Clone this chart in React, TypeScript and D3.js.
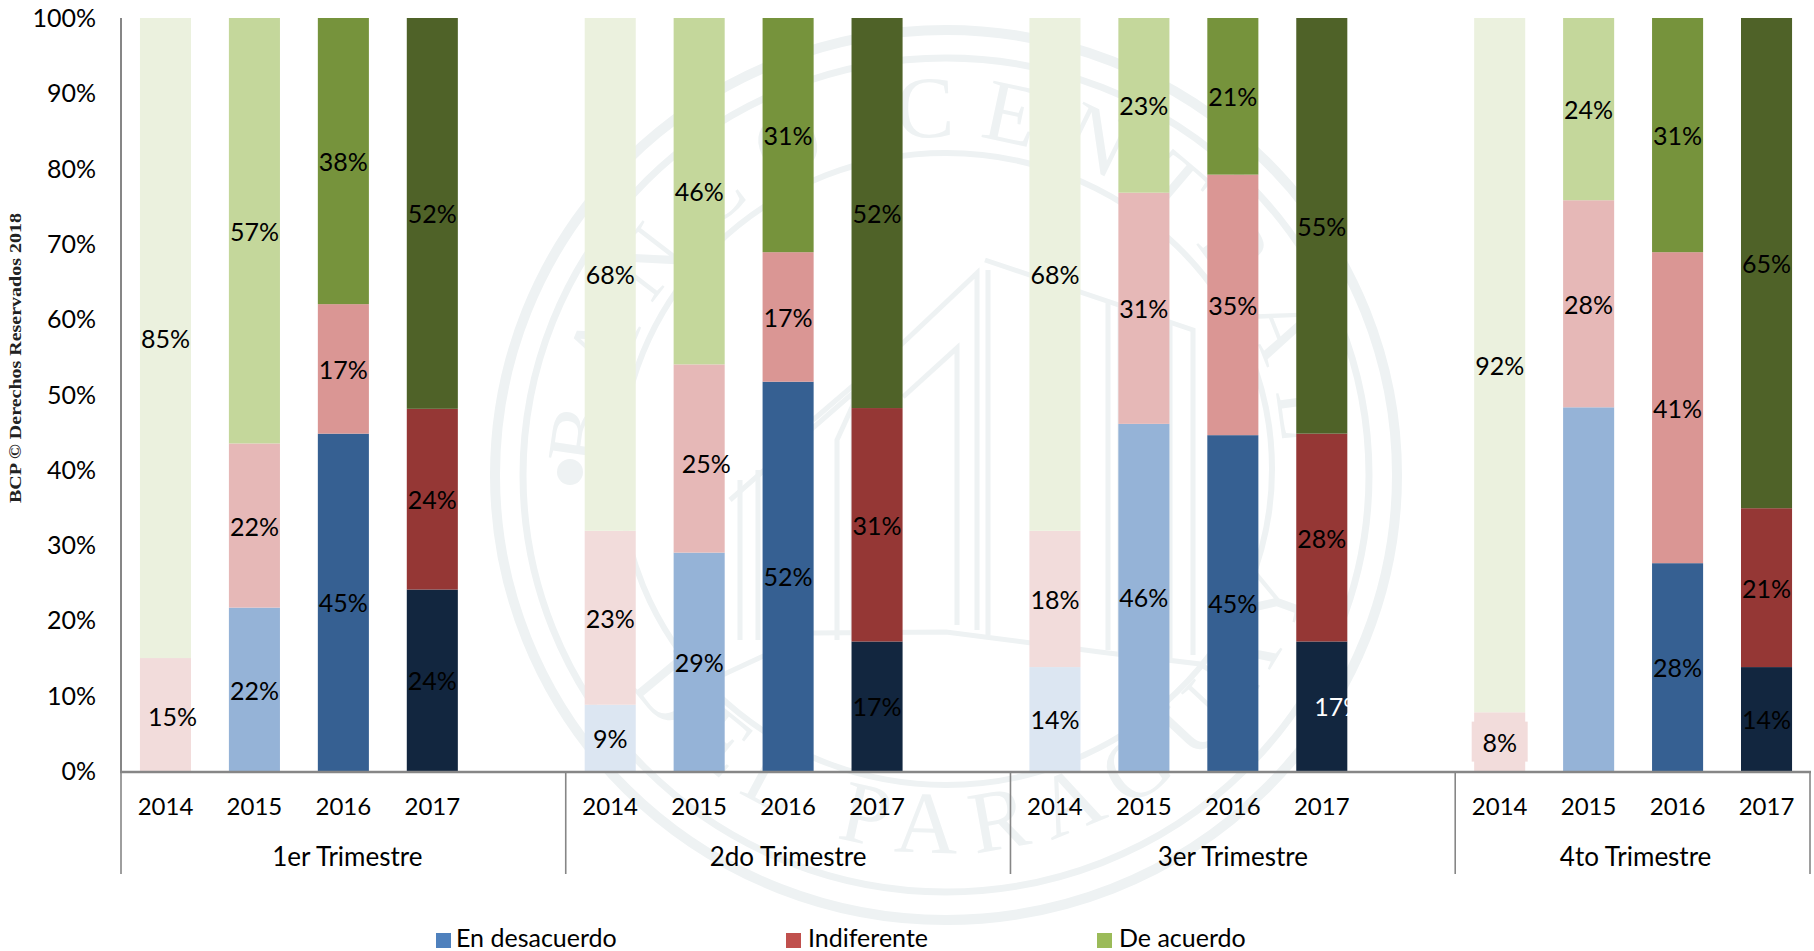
import React from "react";
import * as d3 from "d3";

const W = 1814;
const H = 951;

const quarters = ["1er Trimestre", "2do Trimestre", "3er Trimestre", "4to Trimestre"];
const years = ["2014", "2015", "2016", "2017"];
const seriesNames = ["En desacuerdo", "Indiferente", "De acuerdo"];

// Values per quarter, per year (2014..2017)
const enDesacuerdo = [
  [0, 21.7, 44.8, 24.1],
  [8.8, 29, 51.7, 17.2],
  [13.8, 46.1, 44.6, 17.2],
  [0, 48.3, 27.6, 13.8],
];
const indiferente = [
  [15, 21.8, 17.2, 24],
  [23.1, 25, 17.2, 31],
  [18.1, 30.7, 34.6, 27.6],
  [7.8, 27.5, 41.3, 21.1],
];
const deAcuerdo = [
  [85, 56.5, 38, 51.9],
  [68.1, 46, 31.1, 51.8],
  [68.1, 23.2, 20.8, 55.2],
  [92.2, 24.2, 31.1, 65.1],
];
const yTicks = [0, 10, 20, 30, 40, 50, 60, 70, 80, 90, 100];

const blueShades = ["#DCE6F2", "#95B3D7", "#366092", "#12263F"];
const redShades = ["#F2DCDB", "#E6B8B7", "#DA9694", "#953735"];
const greenShades = ["#EBF1DE", "#C4D79B", "#76933C", "#4F6228"];
const legendColors = ["#4F81BD", "#C0504D", "#9BBB59"];
const legendSquareX = [436, 786, 1097];
const legendTextX = [456, 808, 1119];

// Hand-moved data labels in the source chart: key = quarter-year-series
const labelShift: Record<string, [number, number]> = {
  "0-0-1": [7, 2],
  "1-1-1": [7, 5],
  "0-1-0": [0, 2],
};
const WHITE_LABEL = "2-3-0";
const WHITE_SHIFT = 17;
const BOXED_LABEL = "3-0-1";
const HIDDEN_LABELS = ["3-1-0"];

const FONT = "Lato, 'Open Sans', sans-serif";
const MARK = "#EEF2F3";
const AXIS = "#868686";

const keys: string[] = [];
quarters.forEach((_, q) => {
  years.forEach((_, i) => keys.push(`${q}-${i}`));
  if (q < quarters.length - 1) keys.push(`${q}-gap`);
});

const x = d3.scaleBand<string>().domain(keys).range([121, 1811]).paddingInner(0.426).paddingOuter(0.213);
const y = d3.scaleLinear().domain([0, 100]).range([771, 18]);
const pct = (v: number) => `${Math.round(v)}%`;

const stackRows = quarters.flatMap((_, q) =>
  years.map((_, i) => ({
    key: `${q}-${i}`,
    q,
    i,
    s0: enDesacuerdo[q][i],
    s1: indiferente[q][i],
    s2: deAcuerdo[q][i],
  }))
);
const stacked = d3.stack<any>().keys(["s0", "s1", "s2"])(stackRows);
const shades = [blueShades, redShades, greenShades];

const groupEdges = [
  x(`0-0`)! - x.step() * 0.213,
  x(`1-0`)! - x.step() * 0.213,
  x(`2-0`)! - x.step() * 0.213,
  x(`3-0`)! - x.step() * 0.213,
  1810,
];

const CX = 946;
const CY = 475;
const line = d3.line();
const buildingLines: [number, number][][] = [
  [[730, 500], [853, 393], [853, 640]],
  [[813, 420], [903, 343], [977, 273], [977, 630]],
  [[903, 397], [957, 348], [957, 625]],
  [[837, 640], [837, 440], [853, 405]],
  [[985, 260], [1193, 330], [1193, 655]],
  [[988, 270], [988, 635]],
  [[1108, 300], [1108, 650]],
  [[1120, 305], [1120, 652]],
  [[1170, 322], [1170, 660]],
  [[740, 480], [740, 640]],
  [[758, 470], [758, 640]],
  [[690, 690], [813, 633], [946, 632], [1100, 652], [1200, 664], [1240, 690]],
];

function Watermark() {
  return (
    <g>
      <defs>
        <path id="wmTop" d={`M ${CX - 338} ${CY} A 338 338 0 0 1 ${CX + 338} ${CY}`} />
        <path id="wmBottom" d={`M ${CX - 378} ${CY} A 378 378 0 0 0 ${CX + 378} ${CY}`} />
      </defs>
      <ellipse cx={CX} cy={CY} rx={451} ry={445} fill="none" stroke={MARK} strokeWidth={10} />
      <ellipse cx={CX} cy={CY} rx={423} ry={417} fill="none" stroke={MARK} strokeWidth={7} />
      <ellipse cx={CX} cy={CY - 6} rx={326} ry={316} fill="none" stroke={MARK} strokeWidth={6} />
      <circle cx={570} cy={472} r={13} fill={MARK} />
      <circle cx={1322} cy={472} r={13} fill={MARK} />
      {buildingLines.map((pts, i) => (
        <path key={i} d={line(pts)!} fill="none" stroke={MARK} strokeWidth={5} />
      ))}
      <text fontFamily="'Liberation Serif', serif" fontSize={88} fill={MARK} letterSpacing={24}>
        <textPath href="#wmTop" startOffset="50%" textAnchor="middle">BANCO CENTRAL</textPath>
      </text>
      <g transform={`rotate(-10 ${CX} ${CY})`}>
        <text fontFamily="'Liberation Serif', serif" fontSize={88} fill={MARK} letterSpacing={18}>
          <textPath href="#wmBottom" startOffset="50%" textAnchor="middle">DEL PARAGUAY</textPath>
        </text>
      </g>
    </g>
  );
}

export default function App() {
  return (
    <svg
      width={W}
      height={H}
      viewBox={`0 0 ${W} ${H}`}
      style={{ position: "absolute", left: 0, top: 0, background: "#fff" }}
    >
      <Watermark />

      {stacked.map((layer, s) =>
        layer.map((d: any) => {
          const row = d.data;
          return (
            <rect
              key={`${s}-${row.key}`}
              x={x(row.key)}
              width={x.bandwidth()}
              y={y(d[1])}
              height={y(d[0]) - y(d[1])}
              fill={shades[s][row.i]}
            />
          );
        })
      )}

      {/* axes */}
      <line x1={121} x2={121} y1={18} y2={772} stroke={AXIS} strokeWidth={2} />
      <line x1={120} x2={1811} y1={772} y2={772} stroke={AXIS} strokeWidth={2.5} />
      {groupEdges.map((e, i) => (
        <line key={i} x1={e} x2={e} y1={772} y2={874} stroke={AXIS} strokeWidth={1.6} />
      ))}

      {yTicks.map((t) => (
        <text key={t} x={96} y={y(t)} dy="0.36em" textAnchor="end" fontFamily={FONT} fontSize={25} fill="#000">
          {t}%
        </text>
      ))}

      {stackRows.map((r) => (
        <text
          key={r.key}
          x={x(r.key)! + x.bandwidth() / 2}
          y={806}
          dy="0.36em"
          textAnchor="middle"
          fontFamily={FONT}
          fontSize={24}
          fill="#000"
        >
          {years[r.i]}
        </text>
      ))}
      {quarters.map((q, i) => (
        <text
          key={q}
          x={(groupEdges[i] + groupEdges[i + 1]) / 2 + (i === 0 ? 4 : i === 3 ? 3 : 0)}
          y={857}
          dy="0.36em"
          textAnchor="middle"
          fontFamily={FONT}
          fontSize={26}
          fill="#000"
        >
          {q}
        </text>
      ))}

      {/* data labels */}
      {stacked.map((layer, s) =>
        layer.map((d: any) => {
          const row = d.data;
          const v = d[1] - d[0];
          const id = `${row.key}-${s}`;
          if (v <= 0 || HIDDEN_LABELS.includes(id)) return null;
          const cx = x(row.key)! + x.bandwidth() / 2;
          const cy = y((d[0] + d[1]) / 2);
          const [dx, dy] = labelShift[id] || [0, 1];
          const isWhite = id === WHITE_LABEL;
          return (
            <g key={id}>
              {id === BOXED_LABEL && (
                <rect x={cx - 28} y={cy - 20} width={56} height={40} fill="#F2DCDB" />
              )}
              <text
                x={cx + dx + (isWhite ? WHITE_SHIFT : 0)}
                y={cy + dy}
                dy="0.36em"
                textAnchor="middle"
                fontFamily={FONT}
                fontSize={25}
                fill={isWhite ? "#fff" : "#000"}
              >
                {pct(v)}
              </text>
            </g>
          );
        })
      )}

      {/* legend */}
      {seriesNames.map((n, i) => (
        <g key={n}>
          <rect x={legendSquareX[i]} y={933} width={15} height={15} fill={legendColors[i]} />
          <text x={legendTextX[i]} y={947} fontFamily={FONT} fontSize={25} fill="#000">
            {n}
          </text>
        </g>
      ))}

      <text
        transform="translate(21 503) rotate(-90)"
        fontFamily="'Liberation Serif', serif"
        fontWeight="bold"
        fontSize={17}
        fill="#222"
        textLength={290}
        lengthAdjust="spacingAndGlyphs"
      >
        BCP © Derechos Reservados 2018
      </text>
    </svg>
  );
}
